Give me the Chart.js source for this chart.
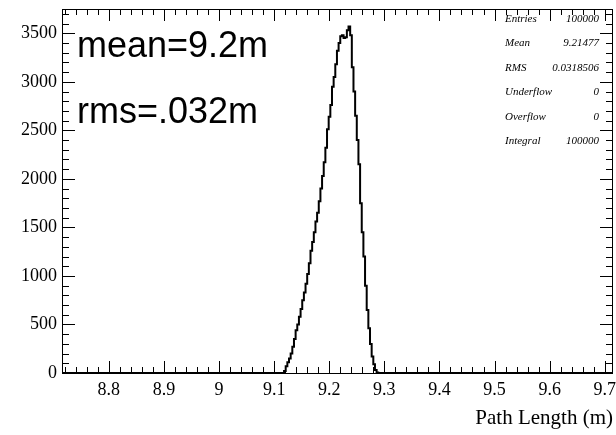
<!DOCTYPE html>
<html>
<head>
<meta charset="utf-8">
<script src="https://cdn.jsdelivr.net/npm/chart.js"></script>
<style>
    body { margin: 0; background: #fff; }
    #wrap { width: 616px; height: 435px; position: relative; }
</style>
</head>
<body>
<div id="wrap"><canvas id="chart"></canvas></div>
<script>
// histogram range and binning
const xRange = [8.715, 9.715];
const yRange = [0, 3750];
const firstEdge = 9.118;
const binWidth = 0.003;
// bin contents (from firstEdge upward)
const binCounts = [
    20, 70, 110, 150, 200, 270, 350, 440, 500, 580,
    660, 750, 830, 920, 1020, 1130, 1260, 1350, 1450, 1560,
    1650, 1770, 1900, 2030, 2170, 2320, 2510, 2640, 2760, 2950,
    3050, 3180, 3320, 3400, 3470, 3480, 3450, 3460, 3530, 3570,
    3480, 3150, 2900, 2650, 2400, 2150, 1750, 1450, 1200, 900,
    650, 460, 300, 170, 90, 30, 5
];
const xTickValues = [8.8, 8.9, 9, 9.1, 9.2, 9.3, 9.4, 9.5, 9.6, 9.7];
const yTickValues = [0, 500, 1000, 1500, 2000, 2500, 3000, 3500];
const statNames = ['Entries', 'Mean', 'RMS', 'Underflow', 'Overflow', 'Integral'];
const statValues = ['100000', '9.21477', '0.0318506', '0', '0', '100000'];
const notes = ['mean=9.2m', 'rms=.032m'];
const xTitle = 'Path Length (m)';

// stepped outline points: one per bin low edge, then back down to zero
const points = [{x: xRange[0], y: 0}];
binCounts.forEach((c, i) => points.push({x: firstEdge + i * binWidth, y: c}));
points.push({x: firstEdge + binCounts.length * binWidth, y: 0});
points.push({x: xRange[1], y: 0});

const serif = '"Liberation Serif", "DejaVu Serif", serif';

// ROOT-style frame with ticks on all four sides, plus the text boxes
const rootFrame = {
    id: 'rootFrame',
    afterDatasetsDraw(chart) {
        const ctx = chart.ctx;
        const a = chart.chartArea;
        const xs = chart.scales.x, ys = chart.scales.y;
        ctx.save();
        ctx.strokeStyle = '#000';
        ctx.lineWidth = 1;
        ctx.strokeRect(a.left + 0.5, a.top + 0.5, a.right - a.left - 1, a.bottom - a.top);

        ctx.beginPath();
        // x ticks, major 0.1, minor 0.02
        for (let k = 436; k <= 485; k++) {
            const v = k * 0.02;
            if (v < xRange[0] || v > xRange[1]) continue;
            const px = Math.round(xs.getPixelForValue(v)) + 0.5;
            const len = (k % 5 === 0) ? 12 : 6;
            ctx.moveTo(px, a.bottom); ctx.lineTo(px, a.bottom - len);
            ctx.moveTo(px, a.top); ctx.lineTo(px, a.top + len);
        }
        // y ticks, major 500, minor 100
        for (let v = 0; v <= yRange[1]; v += 100) {
            const py = Math.round(ys.getPixelForValue(v)) + 0.5;
            const len = (v % 500 === 0) ? 13 : 7;
            ctx.moveTo(a.left, py); ctx.lineTo(a.left + len, py);
            ctx.moveTo(a.right, py); ctx.lineTo(a.right - len, py);
        }
        ctx.stroke();

        // big annotations
        ctx.fillStyle = '#000';
        ctx.font = '36px "Liberation Sans", Arial, sans-serif';
        ctx.textAlign = 'left';
        ctx.textBaseline = 'alphabetic';
        ctx.fillText(notes[0], 77, 57);
        ctx.fillText(notes[1], 77, 123);

        // stats box
        ctx.font = 'italic 11px ' + serif;
        ctx.textBaseline = 'middle';
        statNames.forEach((n, i) => {
            const y = 19 + i * 24.5;
            ctx.textAlign = 'left';
            ctx.fillText(n, 505, y);
            ctx.textAlign = 'right';
            ctx.fillText(statValues[i], 599, y);
        });
        ctx.restore();
    }
};

new Chart(document.getElementById('chart'), {
    type: 'line',
    data: {
        datasets: [{
            data: points,
            stepped: true,
            borderColor: '#000',
            borderWidth: 2,
            pointRadius: 0,
            fill: false
        }]
    },
    options: {
        responsive: true,
        maintainAspectRatio: false,
        animation: false,
        devicePixelRatio: 1,
        layout: { padding: { top: 9, right: 3, left: 0, bottom: 0 } },
        plugins: { legend: { display: false }, tooltip: { enabled: false } },
        scales: {
            x: {
                type: 'linear',
                min: xRange[0],
                max: xRange[1],
                border: { display: false },
                grid: { display: false, drawTicks: false },
                afterBuildTicks: s => { s.ticks = xTickValues.map(v => ({value: v})); },
                afterFit: s => { s.height = 62; s.paddingLeft = 0; s.paddingRight = 0; },
                ticks: {
                    color: '#000',
                    padding: 6,
                    maxRotation: 0,
                    autoSkip: false,
                    font: { family: serif, size: 18 },
                    callback: v => String(Math.round(v * 10) / 10)
                },
                title: {
                    display: true,
                    text: xTitle,
                    align: 'end',
                    color: '#000',
                    font: { family: serif, size: 21 },
                    padding: { top: 0, bottom: 4 }
                }
            },
            y: {
                min: yRange[0],
                max: yRange[1],
                border: { display: false },
                grid: { display: false, drawTicks: false },
                afterBuildTicks: s => { s.ticks = yTickValues.map(v => ({value: v})); },
                afterFit: s => { s.width = 62; s.paddingTop = 0; s.paddingBottom = 0; },
                ticks: {
                    color: '#000',
                    padding: 5,
                    autoSkip: false,
                    font: { family: serif, size: 18 },
                    callback: v => String(v)
                }
            }
        }
    },
    plugins: [rootFrame]
});
</script>
</body>
</html>
